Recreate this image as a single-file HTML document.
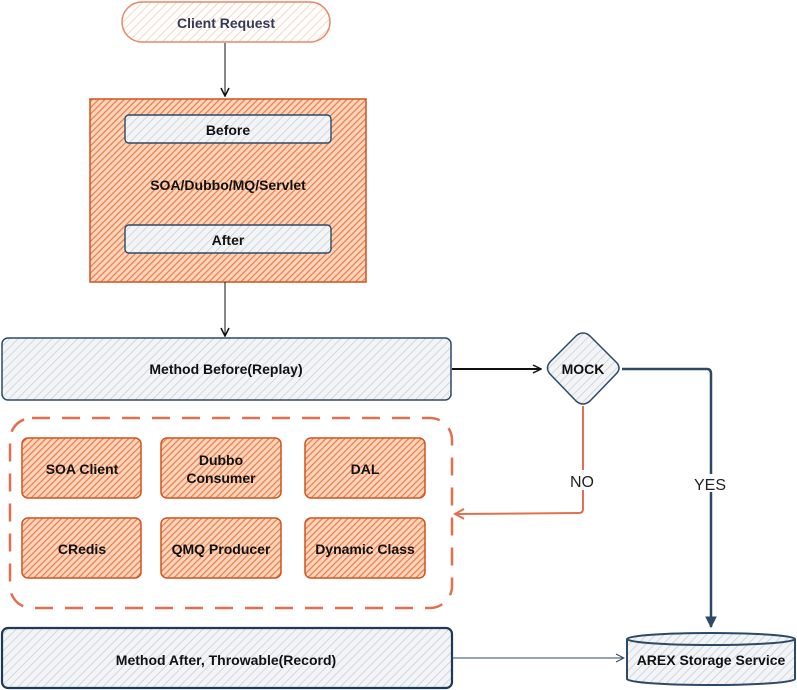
<!DOCTYPE html>
<html><head><meta charset="utf-8">
<style>
html,body{margin:0;padding:0;background:#fff;}
svg{display:block;}
text{font-family:"Liberation Sans",sans-serif;font-weight:bold;}
</style></head>
<body>
<svg width="797" height="690" viewBox="0 0 797 690" xmlns="http://www.w3.org/2000/svg">
<defs>
<pattern id="ho" width="4.5" height="4.5" patternUnits="userSpaceOnUse" patternTransform="rotate(45)">
<rect width="4.5" height="4.5" fill="#fbd6bf"/>
<line x1="0" y1="0" x2="0" y2="4.5" stroke="#ee7a42" stroke-width="2.4"/>
</pattern>
<pattern id="hl" width="6" height="6" patternUnits="userSpaceOnUse" patternTransform="rotate(45)">
<rect width="6" height="6" fill="#fff"/>
<line x1="0" y1="0" x2="0" y2="6" stroke="#f6c9ae" stroke-width="1.5"/>
</pattern>
<pattern id="hb" width="6" height="6" patternUnits="userSpaceOnUse" patternTransform="rotate(45)">
<rect width="6" height="6" fill="#f2f4f6"/>
<line x1="0" y1="0" x2="0" y2="6" stroke="#bfc9d3" stroke-width="1.3"/>
</pattern>
<marker id="ab" markerWidth="10" markerHeight="10" refX="9" refY="5" orient="auto" markerUnits="userSpaceOnUse">
<path d="M1,1 L9,5 L1,9" fill="none" stroke="#111" stroke-width="1.5"/></marker>
<marker id="an" markerWidth="12" markerHeight="12" refX="11" refY="6" orient="auto" markerUnits="userSpaceOnUse">
<path d="M1,1 L11,6 L1,11 Z" fill="#2c4a66" stroke="#2c4a66"/></marker>
<marker id="ao" markerWidth="12" markerHeight="12" refX="10" refY="6" orient="auto" markerUnits="userSpaceOnUse">
<path d="M1,1 L10,6 L1,11" fill="none" stroke="#e07050" stroke-width="2"/></marker>
<marker id="at" markerWidth="10" markerHeight="10" refX="9" refY="5" orient="auto" markerUnits="userSpaceOnUse">
<path d="M1,1 L9,5 L1,9" fill="none" stroke="#2c4a66" stroke-width="1"/></marker>
</defs>

<rect x="122" y="2" width="208" height="40" rx="20" fill="url(#hl)" stroke="#e9866a" stroke-width="1.5"/>
<text x="226" y="28" text-anchor="middle" font-size="14" fill="#333a55">Client Request</text>
<line x1="225" y1="43" x2="225" y2="96" stroke="#111" stroke-width="1" marker-end="url(#ab)"/>

<rect x="90" y="99" width="276" height="183" fill="url(#ho)" stroke="#d2521d" stroke-width="1.5"/>
<rect x="125" y="115" width="206" height="28" rx="4" fill="url(#hb)" stroke="#2c4a66" stroke-width="1.4"/>
<text x="228" y="135" text-anchor="middle" font-size="14" fill="#111">Before</text>
<text x="228" y="190" text-anchor="middle" font-size="14" fill="#111">SOA/Dubbo/MQ/Servlet</text>
<rect x="125" y="225" width="206" height="28" rx="4" fill="url(#hb)" stroke="#2c4a66" stroke-width="1.4"/>
<text x="228" y="245" text-anchor="middle" font-size="14" fill="#111">After</text>
<line x1="225" y1="282" x2="225" y2="336" stroke="#111" stroke-width="1" marker-end="url(#ab)"/>

<rect x="2" y="338" width="449" height="62" rx="6" fill="url(#hb)" stroke="#2c4a66" stroke-width="1.5"/>
<text x="226" y="374" text-anchor="middle" font-size="14" fill="#111">Method Before(Replay)</text>
<line x1="452" y1="369" x2="541" y2="369" stroke="#111" stroke-width="2" marker-end="url(#ab)"/>

<path d="M583,333 Q587,333 590,336 L617,363 Q621,368 617,373 L590,401 Q583,407 576,401 L550,374 Q545,368 550,362 L576,336 Q579,333 583,333 Z" fill="url(#hb)" stroke="#2c4a66" stroke-width="1.5"/>
<text x="583" y="374" text-anchor="middle" font-size="14" fill="#111">MOCK</text>

<path d="M622,369 L707,369 Q711,369 711,374 L711,627" fill="none" stroke="#2c4a66" stroke-width="2.5" marker-end="url(#an)"/>
<rect x="690" y="474" width="40" height="18" fill="#fff"/>
<text x="710" y="490" text-anchor="middle" font-size="16" fill="#222" style="font-weight:normal">YES</text>

<path d="M583,406 L583,509 Q583,513 579,513 L455,514" fill="none" stroke="#e07050" stroke-width="2" marker-end="url(#ao)"/>
<rect x="568" y="470" width="30" height="20" fill="#fff"/>
<text x="582" y="487" text-anchor="middle" font-size="16" fill="#222" style="font-weight:normal">NO</text>

<rect x="10" y="418" width="442" height="190" rx="22" fill="none" stroke="#e07050" stroke-width="2.5" stroke-dasharray="18 12"/>

<g stroke="#d2521d" stroke-width="1.5" fill="url(#ho)">
<rect x="22" y="438" width="119" height="60" rx="6"/>
<rect x="161" y="438" width="120" height="60" rx="6"/>
<rect x="305" y="438" width="120" height="60" rx="6"/>
<rect x="22" y="518" width="119" height="60" rx="6"/>
<rect x="161" y="518" width="120" height="60" rx="6"/>
<rect x="305" y="518" width="120" height="60" rx="6"/>
</g>
<g font-size="14" fill="#111" text-anchor="middle">
<text x="82" y="474">SOA Client</text>
<text x="221" y="465">Dubbo</text>
<text x="221" y="483">Consumer</text>
<text x="365" y="474">DAL</text>
<text x="82" y="554">CRedis</text>
<text x="221" y="554">QMQ Producer</text>
<text x="365" y="554">Dynamic Class</text>
</g>

<rect x="2" y="628" width="450" height="60" rx="6" fill="url(#hb)" stroke="#1f3a55" stroke-width="2.2"/>
<text x="226" y="665" text-anchor="middle" font-size="14" fill="#111">Method After, Throwable(Record)</text>
<line x1="452" y1="658" x2="624" y2="658" stroke="#2c4a66" stroke-width="1" marker-end="url(#at)"/>

<path d="M627,639 L627,679 A84,6 0 0 0 795,679 L795,639" fill="url(#hb)" stroke="#2c4a66" stroke-width="2"/>
<ellipse cx="711" cy="639" rx="84" ry="6" fill="url(#hb)" stroke="#2c4a66" stroke-width="2"/>
<text x="711" y="665" text-anchor="middle" font-size="14" fill="#111">AREX Storage Service</text>
</svg>
</body></html>
